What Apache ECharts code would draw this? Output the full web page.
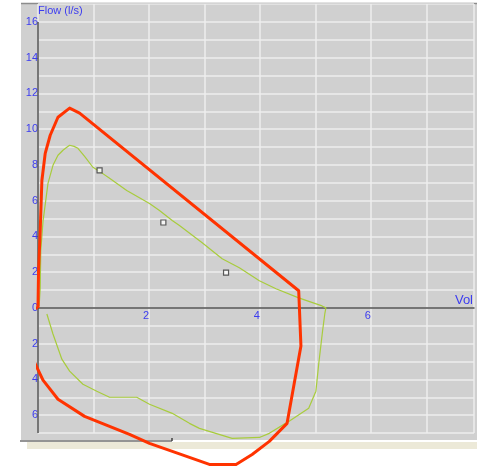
<!DOCTYPE html>
<html><head><meta charset="utf-8">
<script src="https://cdn.jsdelivr.net/npm/echarts@6/dist/echarts.min.js"></script>
<style>html,body{margin:0;padding:0;background:#fff}#c{width:477px;height:470px}</style>
</head><body><div id="c"></div>
<script>
// Measured flow-volume loop (green)
const measuredVol = [0.02,0.04,0.05,0.09,0.18,0.27,0.36,0.45,0.52,0.57,0.65,0.72,0.84,0.99,1.11,1.29,1.60,2.01,2.19,2.42,2.55,2.96,3.32,3.63,3.99,4.29,4.70,5.12,5.19,
  5.17,5.13,5.06,5.01,4.88,4.52,4.17,3.99,3.50,2.91,2.73,2.42,2.01,1.78,1.60,1.29,1.06,0.81,0.57,0.43,0.27,0.16];
const measuredFlow = [0.1,1.1,3.2,4.83,6.97,7.98,8.54,8.82,8.99,9.10,9.04,8.93,8.48,7.87,7.64,7.25,6.57,5.84,5.45,4.89,4.61,3.65,2.75,2.25,1.52,1.07,0.56,0.11,0,
  -0.34,-1.29,-3.15,-4.66,-5.62,-6.35,-7.02,-7.25,-7.30,-6.74,-6.46,-5.90,-5.39,-5.0,-5.0,-5.0,-4.66,-4.27,-3.54,-2.87,-1.46,-0.34];
// Reference envelope (red)
const envelopeVol = [0,0.01,0.04,0.07,0.13,0.22,0.36,0.57,0.75,4.70,4.74,4.49,4.17,3.86,3.57,3.09,2.01,1.65,0.84,0.36,0.09,-0.09,-0.32,0];
const envelopeFlow = [0,2.08,4.33,7.13,8.65,9.66,10.67,11.18,10.90,0.96,-2.13,-6.46,-7.47,-8.20,-8.76,-8.76,-7.58,-7.08,-6.07,-5.11,-4.04,-2.87,0,0];
// Predicted points (squares)
const predictedVol = [1.11,2.26,3.39];
const predictedFlow = [7.70,4.78,1.97];
// Tick labels
const xTickLabels = [2,4,6];
const yTickLabels = [16,14,12,10,8,6,4,2,0,-2,-4,-6];
// Flow axis drawn extent
const flowAxisExtent = [16, -7];

const blue = '#3c3cf0';
const gridTop = 4.1, gridBottom = 37, chartH = 470;
const yMin = -7, yMax = 17;
const plotH = chartH - gridTop - gridBottom;
const zeroOffset = -plotH * (0 - yMin) / (yMax - yMin);

const chart = echarts.init(document.getElementById('c'), null, {renderer:'canvas'});
chart.setOption({
  animation:false,
  backgroundColor:'#ffffff',
  graphic:[
    {type:'rect', z:-100, shape:{x:21,y:3,width:456,height:437}, style:{fill:'#d0d0d0'}},
    {type:'line', z:-99, shape:{x1:21,y1:3.5,x2:477,y2:3.5}, style:{stroke:'#8c8c8c',lineWidth:1.5}},
    {type:'rect', z:-100, shape:{x:27,y:442,width:450,height:7}, style:{fill:'#ece9d8'}},
    {type:'line', z:-99, shape:{x1:20,y1:441,x2:172,y2:441}, style:{stroke:'#707070',lineWidth:1.5}},
    {type:'line', z:-99, shape:{x1:172,y1:438,x2:172,y2:441}, style:{stroke:'#404040',lineWidth:1.5}}
  ],
  grid:{left:38, right:0, top:gridTop, bottom:gridBottom, containLabel:false},
  xAxis:{
    type:'value', min:0, max:7.86, interval:1,
    position:'bottom', offset:zeroOffset,
    name:'Vol', nameLocation:'end', nameGap:-1,
    nameTextStyle:{color:blue, fontSize:13, fontFamily:'Liberation Sans', align:'right', verticalAlign:'bottom', padding:[0,0,1,0]},
    axisLine:{onZero:false, lineStyle:{color:'#505050', width:1.5}},
    axisTick:{show:false},
    axisLabel:{color:blue, fontSize:11, fontFamily:'Liberation Sans', margin:3, padding:[0,6,0,0],
      formatter:v=> xTickLabels.includes(v) ? String(v) : ''},
    splitLine:{show:true, lineStyle:{color:'#eeeeee', width:1.5}}
  },
  yAxis:{
    type:'value', min:yMin, max:yMax, interval:1,
    name:'Flow (l/s)', nameLocation:'end', nameGap:-12,
    nameTextStyle:{color:blue, fontSize:11, fontFamily:'Liberation Sans', align:'left', verticalAlign:'middle'},
    axisLine:{show:false},
    axisTick:{show:false},
    axisLabel:{color:blue, fontSize:11, fontFamily:'Liberation Sans', margin:0, padding:[0,0,2,0],
      formatter:v=> yTickLabels.includes(v) ? String(Math.abs(v)) : ''},
    splitLine:{show:true, lineStyle:{color:'#eeeeee', width:1.5}}
  },
  series:[
    {type:'line', name:'measured', data:measuredVol.map((v,i)=>[v,measuredFlow[i]]),
      showSymbol:false, clip:false, z:3, lineStyle:{color:'#a8cc3c', width:1.2},
      markLine:{silent:true, symbol:'none', label:{show:false}, z:1,
        lineStyle:{color:'#505050', width:1.5, type:'solid'},
        data:[[{coord:[0, flowAxisExtent[0]]},{coord:[0, flowAxisExtent[1]]}]]}},
    {type:'line', name:'envelope', data:envelopeVol.map((v,i)=>[v,envelopeFlow[i]]),
      showSymbol:false, clip:false, z:4, lineStyle:{color:'#ff3300', width:3, join:'round'}},
    {type:'scatter', name:'predicted', data:predictedVol.map((v,i)=>[v,predictedFlow[i]]),
      symbol:'rect', symbolSize:5, z:5, itemStyle:{color:'#ffffff', borderColor:'#333333', borderWidth:1.2}}
  ]
});
</script></body></html>
